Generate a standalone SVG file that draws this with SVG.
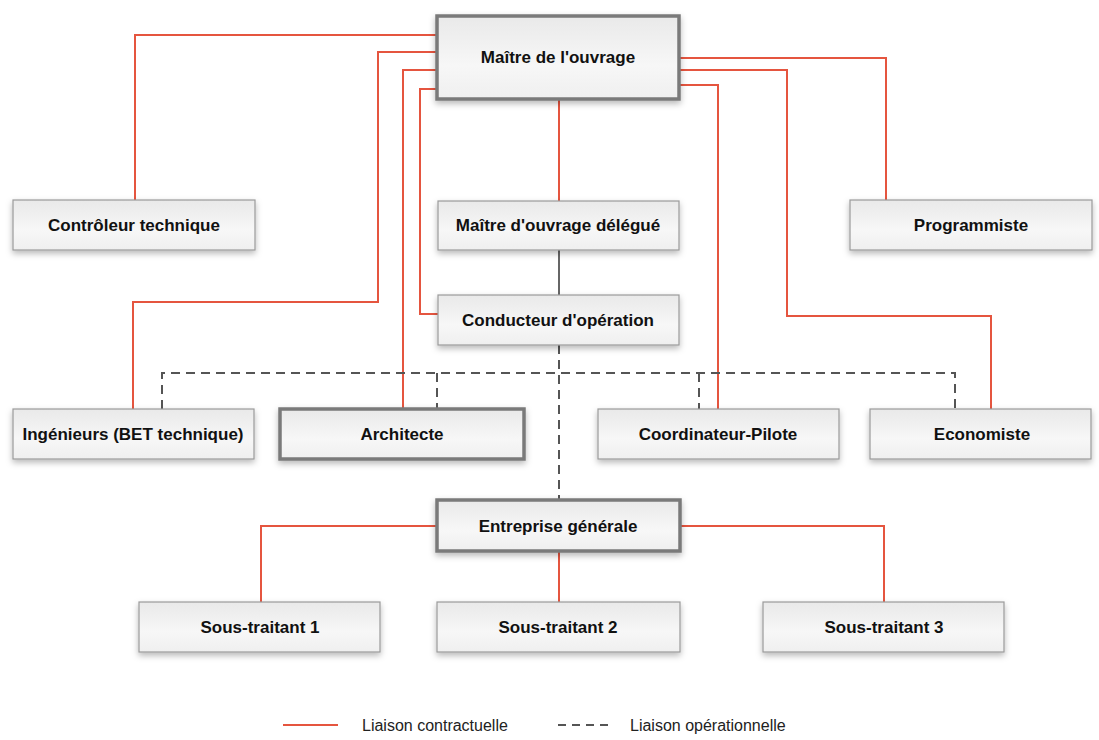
<svg xmlns="http://www.w3.org/2000/svg" width="1099" height="740" viewBox="0 0 1099 740">
<defs>
<linearGradient id="g" x1="0" y1="0" x2="0" y2="1">
<stop offset="0" stop-color="#e9e9e9"/>
<stop offset="0.6" stop-color="#f7f7f7"/>
<stop offset="1" stop-color="#efefef"/>
</linearGradient>
<filter id="sh" x="-10%" y="-20%" width="120%" height="160%">
<feDropShadow dx="0" dy="3" stdDeviation="3" flood-color="#000" flood-opacity="0.28"/>
</filter>
<style>
.box{fill:url(#g);stroke:#9a9a9a;stroke-width:1.2;filter:url(#sh)}
.thick{fill:url(#g);stroke:#7a7a7a;stroke-width:3.5;filter:url(#sh)}
.t{font-family:"Liberation Sans",Arial,sans-serif;font-weight:bold;font-size:17px;fill:#111;text-anchor:middle;dominant-baseline:central}
.red{fill:none;stroke:#e5553f;stroke-width:2}
.gray{fill:none;stroke:#666;stroke-width:2}
.dash{fill:none;stroke:#555;stroke-width:2;stroke-dasharray:9,6}
.lg{font-family:"Liberation Sans",Arial,sans-serif;font-size:16px;fill:#222;dominant-baseline:central}
</style>
</defs>
<rect width="1099" height="740" fill="#fff"/>
<g id="connectors">
<polyline class="red" points="437,35 135,35 135,200"/>
<polyline class="red" points="437,52 378,52 378,302 133,302 133,409"/>
<polyline class="red" points="437,70 403,70 403,409"/>
<polyline class="red" points="437,89 420,89 420,314 438,314"/>
<polyline class="red" points="679,58 886,58 886,200"/>
<polyline class="red" points="679,70 787,70 787,316 991,316 991,409"/>
<polyline class="red" points="679,85 718,85 718,409"/>
<line class="red" x1="559" y1="99" x2="559" y2="201"/>
<line class="gray" x1="559" y1="250" x2="559" y2="295"/>
<line class="dash" x1="559" y1="345" x2="559" y2="500"/>
<polyline class="dash" points="162,409 162,373 955,373 955,409"/>
<line class="dash" x1="437" y1="373" x2="437" y2="409"/>
<line class="dash" x1="699" y1="373" x2="699" y2="409"/>
<polyline class="red" points="437,526 261,526 261,602"/>
<polyline class="red" points="680,526 884,526 884,602"/>
<line class="red" x1="559" y1="551" x2="559" y2="602"/>
</g>
<g id="maitre-ouvrage"><rect class="thick" x="437" y="16" width="242" height="83"/><text class="t" x="558" y="57">Maître de l'ouvrage</text></g>
<g id="controleur"><rect class="box" x="13" y="200" width="242" height="50"/><text class="t" x="134" y="225">Contrôleur technique</text></g>
<g id="delegue"><rect class="box" x="438" y="201" width="241" height="49"/><text class="t" x="558" y="225">Maître d'ouvrage délégué</text></g>
<g id="programmiste"><rect class="box" x="850" y="200" width="242" height="50"/><text class="t" x="971" y="225">Programmiste</text></g>
<g id="conducteur"><rect class="box" x="438" y="295" width="241" height="50"/><text class="t" x="558" y="320">Conducteur d'opération</text></g>
<g id="ingenieurs"><rect class="box" x="13" y="409" width="241" height="50"/><text class="t" x="133" y="434">Ingénieurs (BET technique)</text></g>
<g id="architecte"><rect class="thick" x="280" y="409" width="244" height="50"/><text class="t" x="402" y="434">Architecte</text></g>
<g id="coordinateur"><rect class="box" x="598" y="409" width="241" height="50"/><text class="t" x="718" y="434">Coordinateur-Pilote</text></g>
<g id="economiste"><rect class="box" x="870" y="409" width="221" height="50"/><text class="t" x="982" y="434">Economiste</text></g>
<g id="entreprise"><rect class="thick" x="437" y="500" width="243" height="51"/><text class="t" x="558" y="526">Entreprise générale</text></g>
<g id="st1"><rect class="box" x="139" y="602" width="241" height="50"/><text class="t" x="260" y="627">Sous-traitant 1</text></g>
<g id="st2"><rect class="box" x="437" y="602" width="243" height="50"/><text class="t" x="558" y="627">Sous-traitant 2</text></g>
<g id="st3"><rect class="box" x="763" y="602" width="241" height="50"/><text class="t" x="884" y="627">Sous-traitant 3</text></g>
<g id="legend">
<line class="red" x1="283" y1="725" x2="338" y2="725"/>
<text class="lg" x="362" y="725">Liaison contractuelle</text>
<line class="dash" x1="558" y1="725" x2="610" y2="725" style="stroke-dasharray:8,6"/>
<text class="lg" x="630" y="725">Liaison opérationnelle</text>
</g>
</svg>
